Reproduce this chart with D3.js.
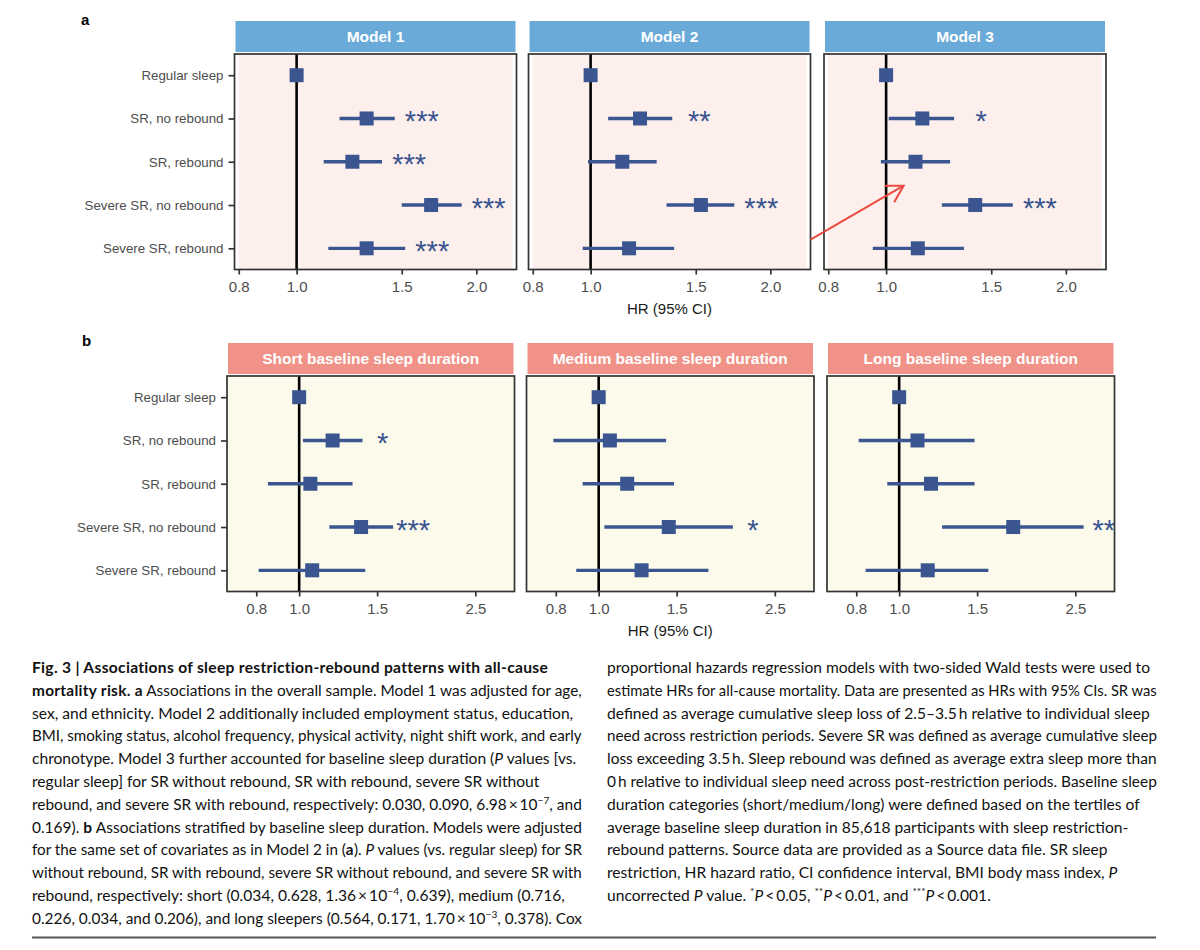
<!DOCTYPE html>
<html><head><meta charset="utf-8">
<script src="https://cdn.jsdelivr.net/npm/d3@7"></script>
<style>body{margin:0;background:#fff}svg{display:block}</style>
</head><body><svg id="c" width="1200" height="950"></svg>
<script>
// ---------- data ----------
const rowLabels = ["Regular sleep", "SR, no rebound", "SR, rebound", "Severe SR, no rebound", "Severe SR, rebound"];

const modelNames = ["Model 1", "Model 2", "Model 3"];
const model1HR  = [1.00, 1.31, 1.24, 1.68, 1.31];
const model1Lo  = [1.00, 1.18, 1.11, 1.50, 1.13];
const model1Hi  = [1.00, 1.46, 1.39, 1.89, 1.52];
const model1Sig = ["", "***", "***", "***", "***"];
const model2HR  = [1.00, 1.21, 1.13, 1.53, 1.16];
const model2Lo  = [1.00, 1.07, 0.99, 1.34, 0.97];
const model2Hi  = [1.00, 1.37, 1.29, 1.74, 1.38];
const model2Sig = ["", "**", "", "***", ""];
const model3HR  = [1.00, 1.15, 1.12, 1.41, 1.13];
const model3Lo  = [1.00, 1.01, 0.98, 1.24, 0.95];
const model3Hi  = [1.00, 1.30, 1.28, 1.63, 1.35];
const model3Sig = ["", "*", "", "***", ""];

const durationNames = ["Short baseline sleep duration", "Medium baseline sleep duration", "Long baseline sleep duration"];
const shortHR  = [1.00, 1.19, 1.06, 1.38, 1.07];
const shortLo  = [1.00, 1.02, 0.85, 1.17, 0.81];
const shortHi  = [1.00, 1.39, 1.32, 1.63, 1.41];
const shortSig = ["", "*", "", "***", ""];
const mediumHR  = [1.00, 1.06, 1.16, 1.44, 1.25];
const mediumLo  = [1.00, 0.79, 0.92, 1.03, 0.89];
const mediumHi  = [1.00, 1.42, 1.48, 2.01, 1.77];
const mediumSig = ["", "", "", "*", ""];
const longHR  = [1.00, 1.10, 1.18, 1.81, 1.16];
const longLo  = [1.00, 0.81, 0.94, 1.25, 0.84];
const longHi  = [1.00, 1.48, 1.48, 2.61, 1.59];
const longSig = ["", "", "", "**", ""];

const ticksA = [0.8, 1.0, 1.5, 2.0];
const ticksB = [0.8, 1.0, 1.5, 2.5];
const domainA = [0.787, 2.335];
const domainB = [0.687, 3.065];
const axisTitle = "HR (95% CI)";
const starNudge = 1.11; // significance label placed at hi × nudge (log scale)

// ---------- styling ----------
const C = { mark: "#3a5590", stripA: "#6aaad9", stripB: "#f09287", bgA: "#fdf0ec", bgB: "#fcfaeb",
            border: "#333333", axisText: "#4d4d4d" };
const FONT = "'Liberation Sans', Arial, Helvetica, sans-serif";

const svg = d3.select("#c");
svg.append("rect").attr("width", 1200).attr("height", 950).attr("fill", "#fff");

function build(names, hr, lo, hi, sig) {
  return names.map((n, k) => ({ name: n, rows: rowLabels.map((r, i) => ({ label: r, hr: hr[k][i], lo: lo[k][i], hi: hi[k][i], sig: sig[k][i] })) }));
}
const panelsA = build(modelNames, [model1HR, model2HR, model3HR], [model1Lo, model2Lo, model3Lo], [model1Hi, model2Hi, model3Hi], [model1Sig, model2Sig, model3Sig]);
const panelsB = build(durationNames, [shortHR, mediumHR, longHR], [shortLo, mediumLo, longLo], [shortHi, mediumHi, longHi], [shortSig, mediumSig, longSig]);

let clipId = 0;
function drawFacetRow(panels, o) {
  const scales = [];
  panels.forEach((p, k) => {
    const x0 = o.x0s[k], w = o.width;
    const x = d3.scaleLog().domain(o.domain).range([x0, x0 + w]);
    const y = d3.scalePoint().domain(rowLabels).range([o.top, o.top + o.height]).padding(0.49);
    scales.push({ x, y });
    const g = svg.append("g");
    g.append("rect").attr("x", x0).attr("y", o.top).attr("width", w).attr("height", o.height).attr("fill", "#fff");
    g.append("rect").attr("x", x0 + o.inset).attr("y", o.top).attr("width", w - 2 * o.inset).attr("height", o.height).attr("fill", o.bg);
    const cid = "clip" + (clipId++);
    svg.append("clipPath").attr("id", cid).append("rect").attr("x", x0).attr("y", o.top).attr("width", w).attr("height", o.height);
    const inner = g.append("g").attr("clip-path", `url(#${cid})`);
    inner.append("line").attr("x1", x(1)).attr("x2", x(1)).attr("y1", o.top).attr("y2", o.top + o.height)
      .attr("stroke", "#000").attr("stroke-width", 2.6);
    inner.selectAll("line.ci").data(p.rows.filter(d => d.hi > d.lo)).join("line").attr("class", "ci")
      .attr("x1", d => x(d.lo)).attr("x2", d => x(d.hi)).attr("y1", d => y(d.label)).attr("y2", d => y(d.label))
      .attr("stroke", C.mark).attr("stroke-width", 3.3);
    const s = 14;
    inner.selectAll("rect.pt").data(p.rows).join("rect").attr("class", "pt")
      .attr("x", d => x(d.hr) - s / 2).attr("y", d => y(d.label) - s / 2).attr("width", s).attr("height", s)
      .attr("fill", C.mark);
    inner.selectAll("text.sig").data(p.rows.filter(d => d.sig)).join("text").attr("class", "sig")
      .attr("x", d => x(d.hi * starNudge)).attr("y", d => y(d.label) + 12.5)
      .attr("text-anchor", "middle").attr("font-family", FONT).attr("font-size", 29).attr("fill", C.mark)
      .text(d => d.sig);
    g.append("rect").attr("x", x0).attr("y", o.top).attr("width", w).attr("height", o.height)
      .attr("fill", "none").attr("stroke", C.border).attr("stroke-width", 1.7);
    g.append("rect").attr("x", x0 + 1).attr("y", o.stripTop).attr("width", w - 2).attr("height", o.stripH).attr("fill", o.strip);
    g.append("text").attr("x", x0 + w / 2).attr("y", o.stripTop + o.stripH / 2 + 5.5).attr("text-anchor", "middle")
      .attr("font-family", FONT).attr("font-weight", "bold").attr("font-size", 15.5).attr("fill", "#fff").text(p.name);
    const ax = g.append("g").attr("transform", `translate(0,${o.top + o.height})`)
      .call(d3.axisBottom(x).tickValues(o.ticks).tickFormat(d3.format(".1f")).tickSize(5).tickPadding(7));
    ax.select(".domain").remove();
    ax.selectAll(".tick line").attr("stroke", C.border).attr("stroke-width", 1.7);
    ax.selectAll(".tick text").attr("font-family", FONT).attr("font-size", 15).attr("fill", C.axisText);
    if (k === 0) {
      const ay = g.append("g").attr("transform", `translate(${x0},0)`)
        .call(d3.axisLeft(y).tickSize(6).tickPadding(5));
      ay.select(".domain").remove();
      ay.selectAll(".tick line").attr("stroke", C.border).attr("stroke-width", 1.7);
      ay.selectAll(".tick text").attr("font-family", FONT).attr("font-size", 13.3).attr("fill", C.axisText);
    }
  });
  svg.append("text").attr("x", o.x0s[1] + o.width / 2).attr("y", o.titleY).attr("text-anchor", "middle")
    .attr("font-family", FONT).attr("font-size", 15).attr("fill", "#1a1a1a").text(axisTitle);
  svg.append("text").attr("x", o.letterX).attr("y", o.letterY).attr("font-family", FONT).attr("font-weight", "bold")
    .attr("font-size", 15).attr("fill", "#000").text(o.letter);
  return scales;
}

const scA = drawFacetRow(panelsA, { x0s: [234.5, 528.5, 824], width: 282, top: 54, height: 215.5, stripTop: 21, stripH: 31,
  domain: domainA, ticks: ticksA, strip: C.stripA, bg: C.bgA, inset: 4, titleY: 313.5, letter: "a", letterX: 81, letterY: 25 });
const scB = drawFacetRow(panelsB, { x0s: [227, 526.5, 827], width: 287.5, top: 376, height: 215.5, stripTop: 343, stripH: 31,
  domain: domainB, ticks: ticksB, strip: C.stripB, bg: C.bgB, inset: 0, titleY: 635.5, letter: "b", letterX: 82, letterY: 346 });

// red annotation arrow (from Model 2 towards Model 3)
(function () {
  const y3 = scA[2].y, x3 = scA[2].x;
  const xs = 810.5, ys = y3(rowLabels[4]) - 8.7;
  const xe = x3(1.07), ye = (y3(rowLabels[2]) + y3(rowLabels[3])) / 2 + 2.3;
  const ang = Math.atan2(ye - ys, xe - xs), L = 19, a = Math.PI / 6;
  const red = "#ec4a40";
  svg.append("line").attr("x1", xs).attr("y1", ys).attr("x2", xe).attr("y2", ye).attr("stroke", red).attr("stroke-width", 2);
  svg.append("path").attr("d",
    `M${xe - L * Math.cos(ang - a)},${ye - L * Math.sin(ang - a)}L${xe},${ye}L${xe - L * Math.cos(ang + a)},${ye - L * Math.sin(ang + a)}`)
    .attr("fill", "none").attr("stroke", red).attr("stroke-width", 2).attr("stroke-linejoin", "miter");
})();

// ---------- caption ----------
const captionLeft = [
  "{b:Fig. 3 | Associations of sleep restriction-rebound patterns with all-cause}",
  "{b:mortality risk. a} Associations in the overall sample. Model 1 was adjusted for age,",
  "sex, and ethnicity. Model 2 additionally included employment status, education,",
  "BMI, smoking status, alcohol frequency, physical activity, night shift work, and early",
  "chronotype. Model 3 further accounted for baseline sleep duration ({i:P} values [vs.",
  "regular sleep] for SR without rebound, SR with rebound, severe SR without",
  "rebound, and severe SR with rebound, respectively: 0.030, 0.090, 6.98\u2009×\u200910{s:−7}, and",
  "0.169). {b:b} Associations stratified by baseline sleep duration. Models were adjusted",
  "for the same set of covariates as in Model 2 in ({b:a}). {i:P} values (vs. regular sleep) for SR",
  "without rebound, SR with rebound, severe SR without rebound, and severe SR with",
  "rebound, respectively: short (0.034, 0.628, 1.36\u2009×\u200910{s:−4}, 0.639), medium (0.716,",
  "0.226, 0.034, and 0.206), and long sleepers (0.564, 0.171, 1.70\u2009×\u200910{s:−3}, 0.378). Cox"
];
const captionRight = [
  "proportional hazards regression models with two-sided Wald tests were used to",
  "estimate HRs for all-cause mortality. Data are presented as HRs with 95% CIs. SR was",
  "defined as average cumulative sleep loss of 2.5–3.5\u2009h relative to individual sleep",
  "need across restriction periods. Severe SR was defined as average cumulative sleep",
  "loss exceeding 3.5\u2009h. Sleep rebound was defined as average extra sleep more than",
  "0\u2009h relative to individual sleep need across post-restriction periods. Baseline sleep",
  "duration categories (short/medium/long) were defined based on the tertiles of",
  "average baseline sleep duration in 85,618 participants with sleep restriction-",
  "rebound patterns. Source data are provided as a Source data file. SR sleep",
  "restriction, HR hazard ratio, CI confidence interval, BMI body mass index, {i:P}",
  "uncorrected {i:P} value. {s:*}{i:P}\u2009<\u20090.05, {s:**}{i:P}\u2009<\u20090.01, and {s:***}{i:P}\u2009<\u20090.001."
];
const CAP_FONT = "Lato, 'Open Sans', sans-serif";
const CAP_SIZE = 15.6;
const CAP_MAXW = 550;

function buildLine(ln, x, y, size) {
  const t = svg.append("text").attr("x", x).attr("y", y).attr("font-family", CAP_FONT)
    .attr("font-size", size).attr("fill", "#111");
  const re = /\{([bis]):([^}]*)\}/g;
  let last = 0, m, pendingDy = 0;
  const lift = size * 0.38;
  const add = (txt, kind) => {
    if (!txt) return;
    const sp = t.append("tspan").text(txt);
    if (kind === "b") sp.attr("font-weight", "bold").attr("letter-spacing", 0.3);
    if (kind === "i") sp.attr("font-style", "italic");
    if (kind === "s") { sp.attr("font-size", size * 0.66).attr("dy", -lift); pendingDy = lift; }
    else if (pendingDy) { sp.attr("dy", pendingDy); pendingDy = 0; }
  };
  while ((m = re.exec(ln)) !== null) {
    add(ln.slice(last, m.index), null);
    add(m[2], m[1]);
    last = re.lastIndex;
  }
  add(ln.slice(last), null);
  return t;
}
function drawCaption(lines, x, y0, pitch) {
  lines.forEach((ln, i) => {
    let t = buildLine(ln, x, y0 + i * pitch, CAP_SIZE);
    const wNat = t.node().getComputedTextLength();
    if (wNat > CAP_MAXW) {
      t.remove();
      t = buildLine(ln, x, y0 + i * pitch, CAP_SIZE * CAP_MAXW / wNat);
    }
  });
}
drawCaption(captionLeft, 32, 673, 22.8);
drawCaption(captionRight, 607, 673, 22.8);

svg.append("line").attr("x1", 32).attr("x2", 1156).attr("y1", 937.5).attr("y2", 937.5).attr("stroke", "#555").attr("stroke-width", 2);
</script></body></html>
